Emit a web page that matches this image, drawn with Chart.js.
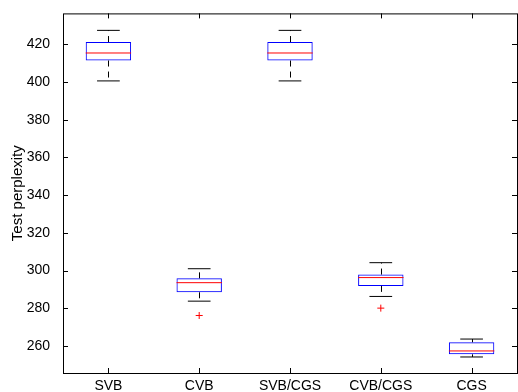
<!DOCTYPE html>
<html>
<head>
<meta charset="utf-8">
<script src="https://cdn.jsdelivr.net/npm/chart.js@4"></script>
<style>
  body { margin: 0; background: #fff; }
  #wrap { width: 518px; height: 392px; overflow: hidden; }
</style>
</head>
<body>
<div id="wrap"><canvas id="c" width="522" height="392"></canvas></div>
<script>
// data
const categories = ['SVB', 'CVB', 'SVB/CGS', 'CVB/CGS', 'CGS'];
const lowerWhisker = [400.6, 283.8, 400.6, 286.3, 254.2];
const q1 = [411.4, 288.5, 411.4, 291.9, 255.6];
const median = [415.4, 293.6, 415.4, 296.3, 257.4];
const q3 = [421.2, 295.9, 421.2, 297.9, 262.0];
const upperWhisker = [427.4, 301.0, 427.4, 304.2, 263.7];
const outliers = [[], [276.2], [], [280.1], []];
const yTicks = [260, 280, 300, 320, 340, 360, 380, 400, 420];

const FONT = 'Liberation Sans, Arial, sans-serif';

// boxes as floating bars
const boxData = categories.map((c, i) => [q1[i], q3[i]]);
const outlierData = [];
outliers.forEach((arr, i) => arr.forEach(v => outlierData.push({ x: categories[i], y: v })));

// medians, whiskers, frame and inward ticks
const boxExtras = {
    id: 'boxExtras',
    afterDatasetsDraw(chart) {
        const ctx = chart.ctx;
        const x = chart.scales.x, y = chart.scales.y;
        const step = x.getPixelForValue(1) - x.getPixelForValue(0);
        ctx.save();
        categories.forEach((c, i) => {
            const cx = x.getPixelForValue(i);
            const half = step * 0.25, cap = step * 0.125;
            // median
            ctx.strokeStyle = '#ff0000';
            ctx.lineWidth = 1;
            ctx.beginPath();
            ctx.moveTo(cx - half, y.getPixelForValue(median[i]));
            ctx.lineTo(cx + half, y.getPixelForValue(median[i]));
            ctx.stroke();
            // whiskers (dashed)
            const wx = Math.round(cx) + 0.5;
            ctx.strokeStyle = '#000';
            ctx.setLineDash([6, 5]);
            ctx.beginPath();
            ctx.moveTo(wx, y.getPixelForValue(q3[i]));
            ctx.lineTo(wx, y.getPixelForValue(upperWhisker[i]));
            ctx.moveTo(wx, y.getPixelForValue(q1[i]));
            ctx.lineTo(wx, y.getPixelForValue(lowerWhisker[i]));
            ctx.stroke();
            ctx.setLineDash([]);
            // caps
            ctx.beginPath();
            ctx.moveTo(cx - cap, y.getPixelForValue(upperWhisker[i]));
            ctx.lineTo(cx + cap, y.getPixelForValue(upperWhisker[i]));
            ctx.moveTo(cx - cap, y.getPixelForValue(lowerWhisker[i]));
            ctx.lineTo(cx + cap, y.getPixelForValue(lowerWhisker[i]));
            ctx.stroke();
        });
        // frame
        const a = chart.chartArea;
        ctx.strokeStyle = '#000';
        ctx.lineWidth = 1;
        ctx.strokeRect(a.left + 0.5, a.top + 0.5, a.right - a.left, a.bottom - a.top);
        // inward ticks
        ctx.beginPath();
        yTicks.forEach(v => {
            const py = Math.round(y.getPixelForValue(v)) + 0.5;
            ctx.moveTo(a.left, py); ctx.lineTo(a.left + 5, py);
            ctx.moveTo(a.right - 5, py); ctx.lineTo(a.right, py);
        });
        categories.forEach((c, i) => {
            const px = Math.round(x.getPixelForValue(i)) + 0.5;
            ctx.moveTo(px, a.bottom); ctx.lineTo(px, a.bottom - 5);
            ctx.moveTo(px, a.top); ctx.lineTo(px, a.top + 5);
        });
        ctx.stroke();
        ctx.restore();
    }
};

new Chart(document.getElementById('c'), {
    type: 'bar',
    data: {
        labels: categories,
        datasets: [{
            type: 'bar',
            data: boxData,
            backgroundColor: 'rgba(0,0,0,0)',
            borderColor: '#0000ff',
            borderWidth: 1,
            borderSkipped: false,
            barPercentage: 0.5,
            categoryPercentage: 1
        }, {
            type: 'scatter',
            data: outlierData,
            pointStyle: 'cross',
            pointRadius: 3.5,
            borderColor: '#ff0000',
            borderWidth: 1
        }]
    },
    plugins: [boxExtras],
    options: {
        responsive: false,
        animation: false,
        layout: { padding: { top: 12, left: 0, right: 0, bottom: 0 } },
        plugins: { legend: { display: false }, tooltip: { enabled: false } },
        scales: {
            x: {
                type: 'category',
                offset: true,
                grid: { display: false },
                border: { display: false },
                ticks: { color: '#000', font: { family: FONT, size: 14 }, padding: -3, maxRotation: 0, autoSkip: false },
                afterFit(s) { s.height = 19; }
            },
            y: {
                min: 245.7,
                max: 436.4,
                grid: { display: false },
                border: { display: false },
                ticks: { stepSize: 20, includeBounds: false, color: '#000', font: { family: FONT, size: 14 }, padding: 5 },
                title: { display: true, text: 'Test perplexity', color: '#000', font: { family: FONT, size: 15 }, padding: { top: 9, bottom: 0 } },
                afterFit(s) { s.width = 63; }
            }
        }
    }
});
</script>
</body>
</html>
